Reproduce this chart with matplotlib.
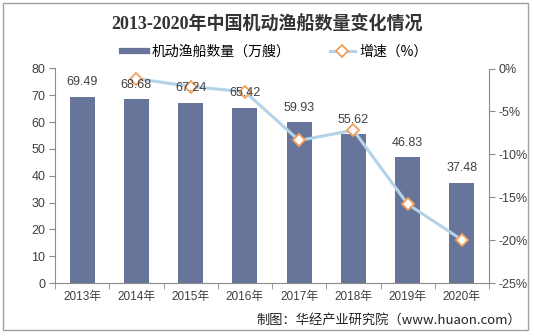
import matplotlib
matplotlib.use("Agg")
import matplotlib.pyplot as plt
from matplotlib.patches import Rectangle
from matplotlib.lines import Line2D
from matplotlib.ticker import FixedLocator

plt.rcParams['font.family'] = ['Liberation Sans', 'Noto Sans CJK SC', 'DejaVu Sans']

years = ["2013年", "2014年", "2015年", "2016年", "2017年", "2018年", "2019年", "2020年"]
boats = [69.49, 68.68, 67.24, 65.42, 59.93, 55.62, 46.83, 37.48]
growth = [None, -1.17, -2.10, -2.71, -8.39, -7.19, -15.80, -19.97]

BAR = "#68759a"
LINE = "#b4d3e6"
MARK = "#f0a05a"
GREY = "#8c8c8c"
TXT = "#404040"

fig = plt.figure(figsize=(5.34, 3.36), dpi=100)
fig.patches.append(Rectangle((3 / 534, 6 / 336), 525 / 534, 327 / 336, transform=fig.transFigure,
                             fill=False, edgecolor="#a0a0a0", lw=1.0))

ax = fig.add_axes([55 / 534, 53 / 336, 434 / 534, 214.5 / 336])
x = list(range(len(years)))
ax.bar(x, boats, width=0.46, color=BAR, zorder=2)

ax.set_xlim(-0.5, len(years) - 0.5)
ax.set_ylim(0, 80)
ax.set_yticks(range(0, 81, 10))
ax.set_xticks(x)
ax.set_xticklabels(years)
ax.xaxis.set_minor_locator(FixedLocator([i - 0.5 for i in range(len(years) + 1)]))
ax.tick_params(axis="x", which="major", length=0, pad=6, labelsize=8.5, labelcolor=TXT)
ax.tick_params(axis="x", which="minor", length=4, color=GREY, direction="out")
ax.tick_params(axis="y", length=4, color=GREY, labelsize=9, labelcolor=TXT, pad=3)
for s in ["top", "right"]:
    ax.spines[s].set_visible(False)
for s in ["left", "bottom"]:
    ax.spines[s].set_color(GREY)

ax2 = ax.twinx()
gx = [xi for xi, g in zip(x, growth) if g is not None]
gy = [g for g in growth if g is not None]
ax2.plot(gx, gy, color=LINE, lw=2.2, zorder=3)
ax2.plot(gx, gy, ls="none", marker="D", ms=6, mfc="white", mec=MARK, mew=1.3, zorder=4)
ax2.set_ylim(-25, 0)
ax2.set_yticks(range(-25, 1, 5))
ax2.set_yticklabels([f"{t}%" for t in range(-25, 1, 5)])
ax2.tick_params(axis="y", length=4, color=GREY, labelsize=9, labelcolor=TXT, pad=3)
for s in ["top", "left", "bottom"]:
    ax2.spines[s].set_visible(False)
ax2.spines["right"].set_color(GREY)

# bar value labels drawn on the top axes so they sit over the growth markers
for xi, v in zip(x, boats):
    ax2.annotate(f"{v:.2f}", (xi, v), xycoords=ax.transData, xytext=(0, 6),
                 textcoords="offset points", ha="center", va="bottom",
                 fontsize=9, color=TXT, zorder=6)

fig.text(0.5, 1 - 25 / 336, "2013-2020年中国机动渔船数量变化情况", ha="center", va="center",
         fontsize=13, fontweight="bold", color="#333333",
         family=["Liberation Serif", "Noto Sans CJK SC"])

handles = [Line2D([], [], color=BAR, lw=4.5),
           Line2D([], [], color=LINE, lw=2.2, marker="D", ms=6, mfc="white", mec=MARK, mew=1.3)]
fig.legend(handles, ["机动渔船数量（万艘）", "增速（%）"], loc="center",
           bbox_to_anchor=(0.515, 1 - 52 / 336), ncol=2, frameon=False,
           handlelength=1.8, columnspacing=2.8, handletextpad=0.35,
           prop={"family": ["Noto Sans CJK SC"], "size": 10})

fig.text(521 / 534, 1 - 320 / 336, "制图：华经产业研究院（www.huaon.com）", ha="right", va="center",
         fontsize=9.5, color="#222222", family=["Noto Sans CJK SC"])

fig.savefig("out.png", dpi=100)
